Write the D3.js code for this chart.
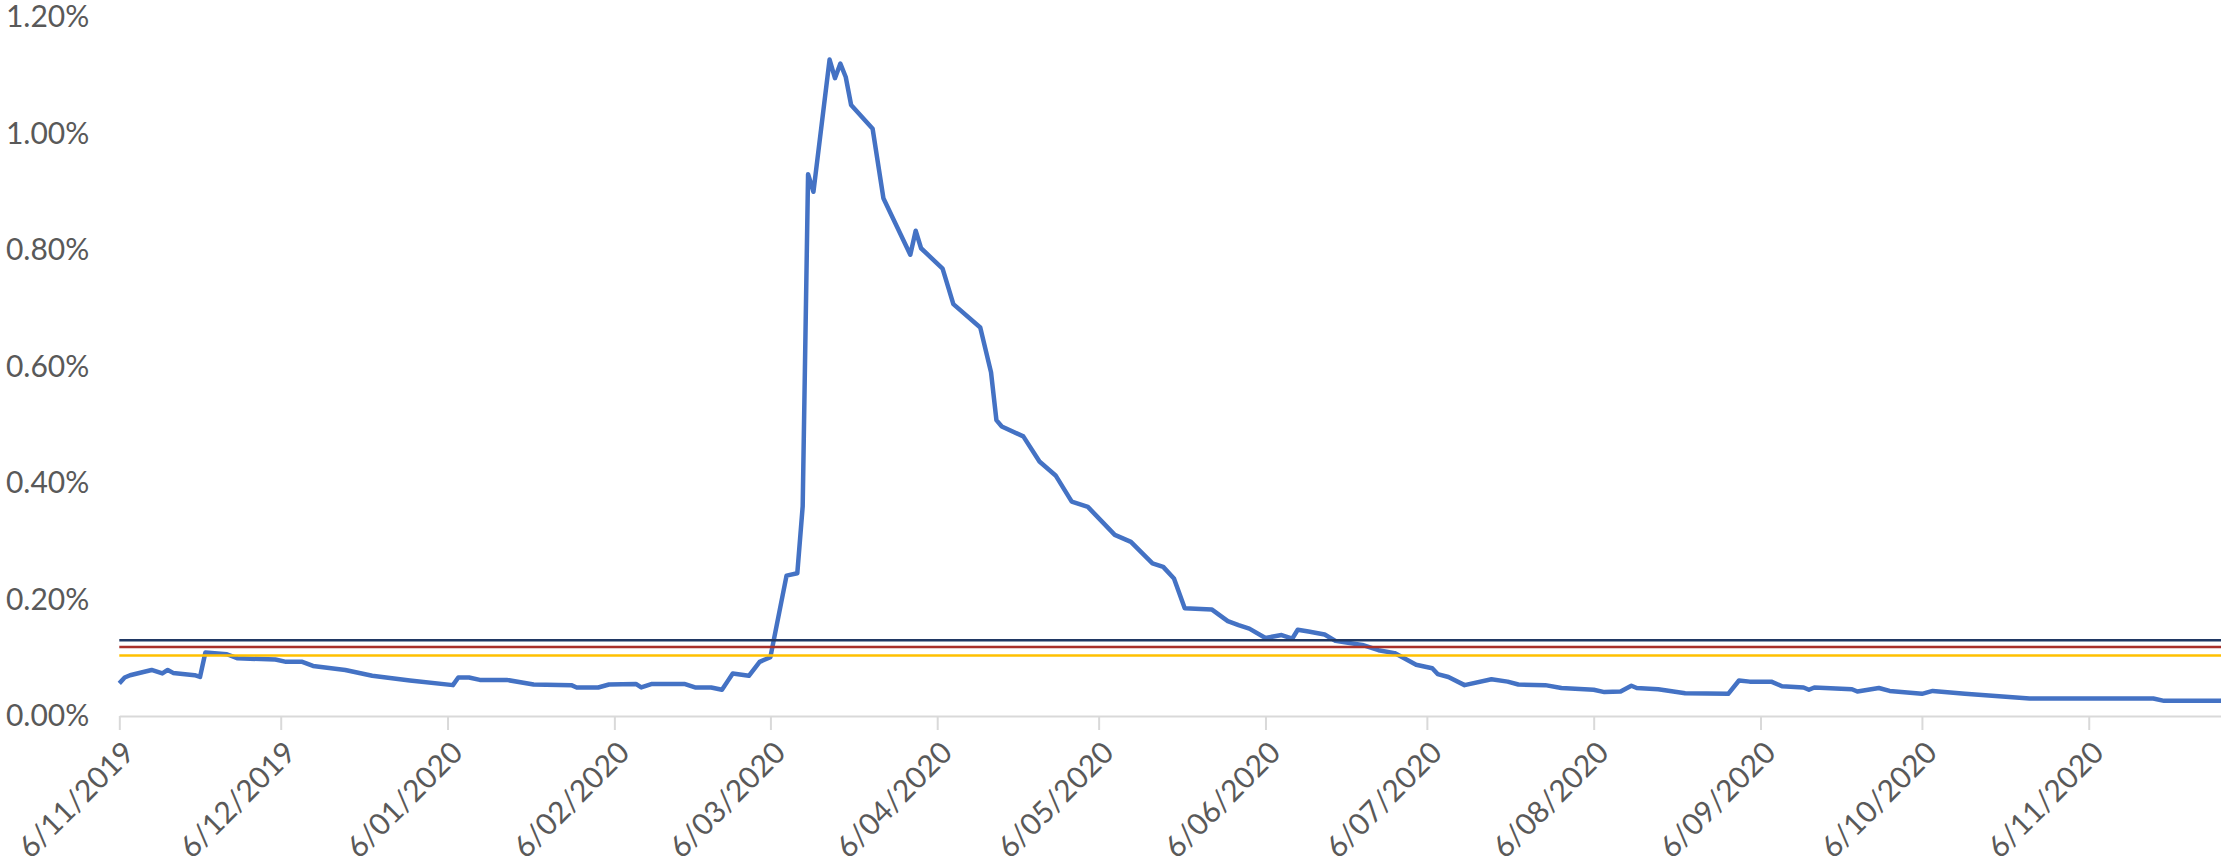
<!DOCTYPE html>
<html>
<head>
<meta charset="utf-8">
<script src="https://cdn.jsdelivr.net/npm/d3@7"></script>
<style>
  html, body { margin: 0; padding: 0; background: #ffffff; }
  svg { display: block; }
</style>
</head>
<body>
<svg id="chart" width="2221" height="868"></svg>
<script>
// ---------------- DATA ----------------
const dates = [
  "2019-11-06","2019-11-07","2019-11-08","2019-11-12","2019-11-14","2019-11-15","2019-11-16","2019-11-20","2019-11-21","2019-11-22",
  "2019-11-26","2019-11-28","2019-12-05","2019-12-07","2019-12-10","2019-12-12","2019-12-18","2019-12-23","2019-12-30","2020-01-07",
  "2020-01-08","2020-01-10","2020-01-12","2020-01-17","2020-01-22","2020-01-29","2020-01-30","2020-02-03","2020-02-05","2020-02-10",
  "2020-02-11","2020-02-13","2020-02-19","2020-02-21","2020-02-24","2020-02-26","2020-02-27","2020-02-28","2020-03-02","2020-03-04",
  "2020-03-05","2020-03-06","2020-03-09","2020-03-11","2020-03-12","2020-03-13","2020-03-14","2020-03-17","2020-03-18","2020-03-19",
  "2020-03-20","2020-03-21","2020-03-25","2020-03-27","2020-04-01","2020-04-02","2020-04-03","2020-04-07","2020-04-09","2020-04-14",
  "2020-04-16","2020-04-17","2020-04-18","2020-04-22","2020-04-25","2020-04-28","2020-05-01","2020-05-04","2020-05-09","2020-05-12",
  "2020-05-16","2020-05-18","2020-05-20","2020-05-22","2020-05-27","2020-05-30","2020-06-01","2020-06-03","2020-06-06","2020-06-09",
  "2020-06-11","2020-06-12","2020-06-14","2020-06-17","2020-06-19","2020-06-24","2020-06-27","2020-06-30","2020-07-04","2020-07-07",
  "2020-07-08","2020-07-10","2020-07-13","2020-07-18","2020-07-21","2020-07-23","2020-07-28","2020-07-31","2020-08-06","2020-08-08",
  "2020-08-11","2020-08-13","2020-08-14","2020-08-18","2020-08-23","2020-08-31","2020-09-02","2020-09-04","2020-09-08","2020-09-10",
  "2020-09-14","2020-09-15","2020-09-16","2020-09-23","2020-09-24","2020-09-28","2020-09-30","2020-10-06","2020-10-08","2020-10-14",
  "2020-10-26","2020-11-18","2020-11-20","2020-12-01"
];
// values in percent
const values = [
  0.056,0.066,0.070,0.079,0.073,0.079,0.074,0.070,0.067,0.109,
  0.106,0.099,0.097,0.093,0.093,0.086,0.079,0.069,0.061,0.053,
  0.066,0.066,0.062,0.062,0.054,0.053,0.049,0.049,0.054,0.055,
  0.049,0.055,0.055,0.049,0.049,0.045,0.059,0.073,0.069,0.093,
  0.097,0.101,0.241,0.245,0.360,0.930,0.900,1.127,1.095,1.120,
  1.097,1.049,1.008,0.889,0.792,0.833,0.803,0.768,0.707,0.667,
  0.590,0.508,0.497,0.480,0.437,0.413,0.368,0.359,0.311,0.299,
  0.262,0.256,0.236,0.185,0.183,0.163,0.156,0.150,0.134,0.139,
  0.133,0.148,0.145,0.140,0.129,0.122,0.113,0.108,0.088,0.082,
  0.072,0.067,0.053,0.063,0.059,0.054,0.053,0.048,0.045,0.041,
  0.042,0.052,0.048,0.046,0.039,0.038,0.061,0.059,0.059,0.051,
  0.049,0.045,0.049,0.046,0.042,0.048,0.043,0.038,0.043,0.038,
  0.030,0.030,0.026,0.026
];
// horizontal reference lines (percent)
const refValues = [0.130, 0.1185, 0.104];
const refColors = ["#203864", "#A8302A", "#FFC000"];

const xTickLabels = ["6/11/2019","6/12/2019","6/01/2020","6/02/2020","6/03/2020","6/04/2020","6/05/2020",
                     "6/06/2020","6/07/2020","6/08/2020","6/09/2020","6/10/2020","6/11/2020"];
const yTickValues = [0, 0.2, 0.4, 0.6, 0.8, 1.0, 1.2];
const domainStart = "2019-11-06";
const domainEnd = "2020-12-01";

// ---------------- CHART ----------------
const parseISO = d3.utcParse("%Y-%m-%d");
const parseLabel = d3.utcParse("%d/%m/%Y");
const series = dates.map((d, i) => ({ date: parseISO(d), value: values[i] }));
const tickDates = xTickLabels.map(s => parseLabel(s));

const svg = d3.select("#chart");
const x0 = 119.3, pxPerDay = 5.381;
const t0 = parseISO(domainStart), t1 = parseISO(domainEnd);
const nDays = (t1 - t0) / 86400000;
const x = d3.scaleUtc().domain([t0, t1]).range([x0, x0 + nDays * pxPerDay]);
const y = d3.scaleLinear().domain([0, 1.2]).range([716, 17]);

const font = "Lato, 'Open Sans', sans-serif";
const textColor = "#595959";

// Y axis (labels only)
const yAxis = svg.append("g")
  .attr("transform", `translate(${x0},0)`)
  .call(d3.axisLeft(y).tickValues(yTickValues).tickSize(0).tickPadding(30)
        .tickFormat(d => d.toFixed(2) + "%"));
yAxis.select(".domain").remove();
yAxis.selectAll("text")
  .attr("fill", textColor).style("font-family", font).style("font-size", "30px");

// X axis
const xAxis = svg.append("g")
  .attr("transform", `translate(0,${y(0)})`)
  .call(d3.axisBottom(x).tickValues(tickDates).tickSize(14).tickSizeOuter(0)
        .tickFormat((d, i) => xTickLabels[i]));
xAxis.select(".domain").attr("stroke", "#D9D9D9").attr("stroke-width", 2);
xAxis.selectAll(".tick line").attr("stroke", "#D9D9D9").attr("stroke-width", 2);
xAxis.selectAll("text")
  .attr("x", 0).attr("y", 0).attr("dy", "0.35em")
  .attr("text-anchor", "end")
  .attr("transform", "translate(9,31) rotate(-45)")
  .attr("fill", textColor).style("font-family", font).style("font-size", "30px");

// main line
const line = d3.line().x(d => x(d.date)).y(d => y(d.value));
svg.append("path")
  .datum(series)
  .attr("fill", "none")
  .attr("stroke", "#4472C4")
  .attr("stroke-width", 4.5)
  .attr("stroke-linejoin", "round")
  .attr("d", line);

// reference lines
svg.append("g").selectAll("line")
  .data(refValues)
  .join("line")
  .attr("x1", x(t0)).attr("x2", x(t1))
  .attr("y1", d => y(d)).attr("y2", d => y(d))
  .attr("stroke", (d, i) => refColors[i])
  .attr("stroke-width", 2.5);
</script>
</body>
</html>
